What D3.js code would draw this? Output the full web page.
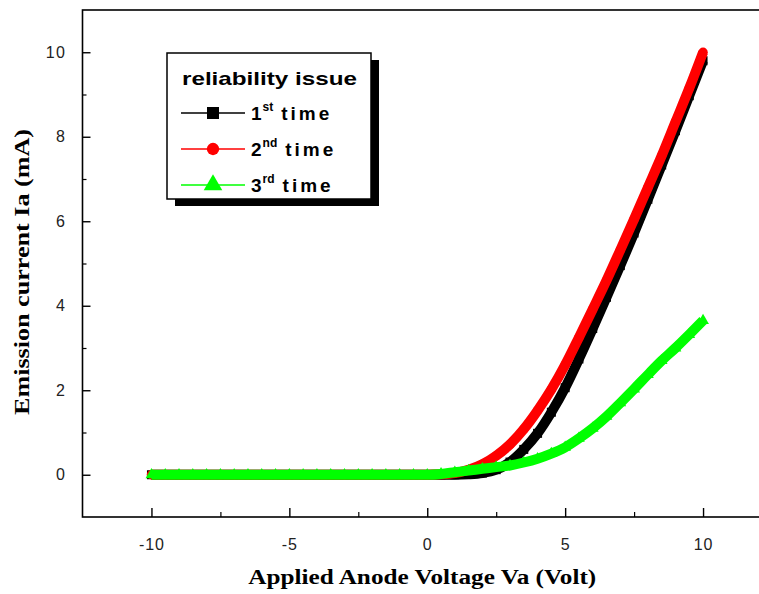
<!DOCTYPE html>
<html>
<head>
<meta charset="utf-8">
<script src="https://cdn.jsdelivr.net/npm/d3@7"></script>
<style>
  html, body { margin: 0; padding: 0; background: #fff; }
  svg { display: block; }
</style>
</head>
<body>
<svg id="chart" width="759" height="594"></svg>
<script>
// ---- data ----
const voltage = [-10, -9.5, -9, -8.5, -8, -7.5, -7, -6.5, -6, -5.5, -5, -4.5, -4, -3.5, -3, -2.5, -2, -1.5, -1, -0.5, 0,
                 0.5, 1, 1.5, 2, 2.5, 3, 3.5, 4, 4.5, 5, 5.5, 6, 6.5, 7, 7.5, 8, 8.5, 9, 9.5, 10];
const firstTime = [0, 0, 0, 0, 0, 0, 0, 0, 0, 0, 0, 0, 0, 0, 0, 0, 0, 0, 0, 0, 0,
                   0, 0, 0.01, 0.04, 0.12, 0.3, 0.6, 0.98, 1.48, 2.06, 2.74, 3.46, 4.2, 4.95, 5.72, 6.52, 7.33, 8.14, 8.97, 9.8];
const secondTime = [0, 0, 0, 0, 0, 0, 0, 0, 0, 0, 0, 0, 0, 0, 0, 0, 0, 0, 0, 0, 0,
                    0.01, 0.04, 0.12, 0.25, 0.45, 0.72, 1.08, 1.52, 2.02, 2.6, 3.25, 3.92, 4.6, 5.32, 6.05, 6.8, 7.55, 8.35, 9.15, 10.0];
const thirdTime = [0, 0, 0, 0, 0, 0, 0, 0, 0, 0, 0, 0, 0, 0, 0, 0, 0, 0, 0, 0, 0,
                   0.02, 0.06, 0.1, 0.14, 0.18, 0.22, 0.29, 0.38, 0.5, 0.65, 0.86, 1.1, 1.38, 1.7, 2.03, 2.37, 2.7, 3.0, 3.32, 3.65];
const xTicks = [-10, -5, 0, 5, 10];
const yTicks = [0, 2, 4, 6, 8, 10];
const seriesNames = ["1", "2", "3"];
const seriesSup = ["st", "nd", "rd"];
const seriesColors = ["#000000", "#ff0000", "#00ff00"];
const seriesSymbols = ["square", "circle", "triangle"];
const legendTitle = "reliability issue";
const xTitle = "Applied Anode Voltage Va (Volt)";
const yTitle = "Emission current Ia (mA)";

// ---- layout ----
const svg = d3.select("#chart");
const plot = { left: 82.5, top: 10, bottom: 517, right: 772 };
const x = d3.scaleLinear().domain([-12.5, 12.5]).range([plot.left, plot.right]);
const y = d3.scaleLinear().domain([-1, 11]).range([plot.bottom, plot.top]);
const fmt = d => String(d);

// frame
svg.append("rect")
  .attr("x", plot.left).attr("y", plot.top)
  .attr("width", plot.right - plot.left).attr("height", plot.bottom - plot.top)
  .attr("fill", "none").attr("stroke", "#000").attr("stroke-width", 1.6);

// bottom axis (ticks inward)
const xAxis = d3.axisBottom(x).tickValues(xTicks).tickSizeInner(-9).tickSizeOuter(0).tickPadding(22)
  .tickFormat(fmt);
const gx = svg.append("g").attr("transform", `translate(0,${plot.bottom})`).call(xAxis);
gx.select(".domain").remove();
gx.selectAll(".tick line").attr("stroke", "#000").attr("stroke-width", 1.4);
gx.selectAll(".tick text").attr("font-family", "Liberation Sans, Arial, sans-serif")
  .attr("font-size", 16).attr("letter-spacing", 1).attr("fill", "#222");
const xMinor = d3.axisBottom(x).tickValues([-7.5, -2.5, 2.5, 7.5]).tickSizeInner(-5).tickSizeOuter(0).tickFormat("");
const gxm = svg.append("g").attr("transform", `translate(0,${plot.bottom})`).call(xMinor);
gxm.select(".domain").remove();
gxm.selectAll(".tick line").attr("stroke", "#000").attr("stroke-width", 1.2);

// left axis (ticks inward)
const yAxis = d3.axisLeft(y).tickValues(yTicks).tickSizeInner(-8).tickSizeOuter(0).tickPadding(16)
  .tickFormat(fmt);
const gy = svg.append("g").attr("transform", `translate(${plot.left},0)`).call(yAxis);
gy.select(".domain").remove();
gy.selectAll(".tick line").attr("stroke", "#000").attr("stroke-width", 1.4);
gy.selectAll(".tick text").attr("font-family", "Liberation Sans, Arial, sans-serif")
  .attr("font-size", 16).attr("letter-spacing", 1.5).attr("fill", "#222");
const yMinor = d3.axisLeft(y).tickValues([1, 3, 5, 7, 9]).tickSizeInner(-4).tickSizeOuter(0).tickFormat("");
const gym = svg.append("g").attr("transform", `translate(${plot.left},0)`).call(yMinor);
gym.select(".domain").remove();
gym.selectAll(".tick line").attr("stroke", "#000").attr("stroke-width", 1.2);

// axis titles
svg.append("text")
  .attr("x", (x(-12.5) + x(12.5)) / 2 - 5).attr("y", 584)
  .attr("text-anchor", "middle")
  .attr("font-family", "Liberation Serif, Times New Roman, serif")
  .attr("font-weight", "bold").attr("font-size", 20)
  .attr("textLength", 348).attr("lengthAdjust", "spacingAndGlyphs")
  .text(xTitle);
svg.append("text")
  .attr("transform", `translate(29,${272}) rotate(-90)`)
  .attr("text-anchor", "middle")
  .attr("font-family", "Liberation Serif, Times New Roman, serif")
  .attr("font-weight", "bold").attr("font-size", 20)
  .attr("textLength", 286).attr("lengthAdjust", "spacingAndGlyphs")
  .text(yTitle);

// ---- series ----
const seriesValues = [firstTime, secondTime, thirdTime];
const symbolType = { square: d3.symbolSquare, circle: d3.symbolCircle, triangle: d3.symbolTriangle };
const symbolSize = { square: 81, circle: 70, triangle: 60 };
svg.append("clipPath").attr("id", "clip").append("rect")
  .attr("x", plot.left).attr("y", plot.top).attr("width", plot.right - plot.left).attr("height", plot.bottom - plot.top);
const dataG = svg.append("g").attr("clip-path", "url(#clip)");
const line = d3.line().x(d => x(d[0])).y(d => y(d[1])).curve(d3.curveMonotoneX);

seriesValues.forEach((vals, i) => {
  const pts = voltage.map((v, k) => [v, vals[k]]);
  const g = dataG.append("g");
  g.append("path").datum(pts)
    .attr("d", line).attr("fill", "none")
    .attr("stroke", seriesColors[i]).attr("stroke-width", 10)
    .attr("stroke-linejoin", "round");
  g.selectAll("path.pt").data(pts).enter().append("path")
    .attr("class", "pt")
    .attr("transform", d => `translate(${x(d[0])},${y(d[1])})`)
    .attr("d", d3.symbol().type(symbolType[seriesSymbols[i]]).size(symbolSize[seriesSymbols[i]]))
    .attr("fill", seriesColors[i]);
});

// ---- legend ----
const lg = { x: 167, y: 53, w: 204, h: 146 };
svg.append("rect").attr("x", lg.x + 8).attr("y", lg.y + 7).attr("width", lg.w).attr("height", lg.h).attr("fill", "#000");
svg.append("rect").attr("x", lg.x).attr("y", lg.y).attr("width", lg.w).attr("height", lg.h)
  .attr("fill", "#fff").attr("stroke", "#000").attr("stroke-width", 1.5);
svg.append("text").attr("x", 182).attr("y", 85)
  .attr("font-family", "Liberation Sans, Arial, sans-serif").attr("font-weight", "bold").attr("font-size", 19)
  .attr("textLength", 175).attr("lengthAdjust", "spacingAndGlyphs")
  .text(legendTitle);
const rowY = [113, 149, 185];
const legSize = { square: 144, circle: 120, triangle: 150 };
seriesNames.forEach((n, i) => {
  const cy = rowY[i];
  svg.append("line").attr("x1", 181).attr("x2", 245).attr("y1", cy).attr("y2", cy)
    .attr("stroke", seriesColors[i]).attr("stroke-width", 1.5);
  svg.append("path").attr("transform", `translate(213,${cy})`)
    .attr("d", d3.symbol().type(symbolType[seriesSymbols[i]]).size(legSize[seriesSymbols[i]]))
    .attr("fill", seriesColors[i]);
  const t = svg.append("text").attr("x", 251).attr("y", cy + 7)
    .attr("font-family", "Liberation Sans, Arial, sans-serif").attr("font-weight", "bold").attr("font-size", 19);
  t.append("tspan").text(n);
  t.append("tspan").attr("font-size", 12).attr("dy", -9).attr("dx", 1).text(seriesSup[i]);
  t.append("tspan").attr("dy", 9).attr("dx", 8).attr("letter-spacing", 3).text("time");
});
</script>
</body>
</html>
